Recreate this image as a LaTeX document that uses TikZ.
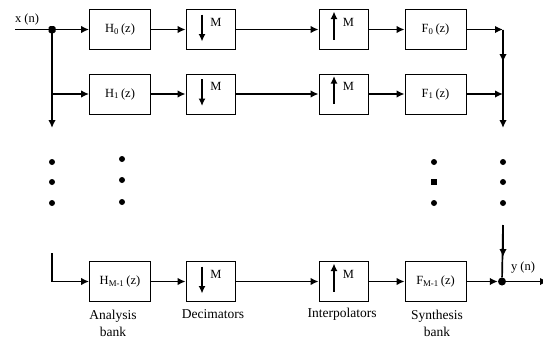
\documentclass[tikz,border=0pt]{standalone}
\usepackage{fontspec}
\setmainfont{Liberation Serif}
\usetikzlibrary{arrows.meta}
\begin{document}
\begin{tikzpicture}[x=1pt,y=-1pt,
  box/.style={draw,line width=0.8pt,minimum height=40pt,inner sep=0pt,font=\fontsize{12.5}{13}\selectfont},
  hbox/.style={box,minimum width=61pt},
  mbox/.style={box,minimum width=49pt},
  conn/.style={line width=1.7pt,-{Latex[length=8pt,width=7.5pt]}},
  wire/.style={line width=1.7pt},
  inarrow/.style={line width=1.6pt,-{Latex[length=7.5pt,width=7pt]}},
  mlbl/.style={font=\fontsize{12.5}{13}\selectfont},
  lbl/.style={font=\fontsize{13.5}{17}\selectfont,align=center},
  blob/.style={circle,fill,inner sep=0pt,minimum size=#1},
  blob/.default=6pt]
\useasboundingbox (0,0) rectangle (543,338);

\foreach \r/\y/\s in {0/29.5/0,1/94/1,2/281.5/{M-1}}{
  \node[hbox] (H\r) at (120,\y) {H\textsubscript{\s}\,(z)};
  \node[mbox] (D\r) at (210.5,\y) {};
  \draw[inarrow] ([xshift=-8.5pt,yshift=15pt]D\r.center) -- ++(0,27);
  \node[mlbl] (DM\r) at ([xshift=5.5pt,yshift=7.5pt]D\r.center) {M};
  \node[mbox] (U\r) at (343.5,\y) {};
  \draw[inarrow] ([xshift=-9.5pt,yshift=-10pt]U\r.center) -- ++(0,-28);
  \node[mlbl] (UM\r) at ([xshift=5pt,yshift=7.5pt]U\r.center) {M};
  \node[hbox] (F\r) at (435.5,\y) {F\textsubscript{\s}\,(z)};
  \draw[conn] (H\r) -- (D\r);
  \draw[conn] (D\r) -- (U\r);
  \draw[conn] (U\r) -- (F\r);
}

% input side
\coordinate (Xin) at (15,29.5);
\coordinate (J) at (52,29.5);
\coordinate (J1) at (52,94);
\coordinate (Lbot) at (52,128);
\coordinate (Ltop) at (52,253);
\node[mlbl] (xl) at (27,19) {x (n)};
\draw[wire] (Xin) -- (J);
\draw[conn] (J) -- (H0);
\draw[conn] (J) -- (Lbot);
\draw[conn] (J1) -- (H1);
\draw[conn] (Ltop) |- (H2);
\node[rectangle,fill,inner sep=0pt,minimum size=7pt,rounded corners=1.5pt] (Jd) at (J) {};

% output side
\coordinate (R0) at (503,29.5);
\coordinate (Rmid) at (503,62);
\coordinate (R1) at (503,94);
\coordinate (Rbot) at (503,128);
\coordinate (Rtop) at (503,225);
\coordinate (Rarr) at (503,257);
\coordinate (Yout) at (548,281.5);
\draw[conn] (F0) -- (R0);
\draw[conn] (F1) -- (R1);
\draw[wire] (R0) -- (R1);
\draw[conn] (R0) -- (Rmid);
\draw[conn] (R1) -- (Rbot);
\node[blob=8pt] (Y) at (502,281.5) {};
\draw[wire] (Rtop) -- (Y);
\draw[conn] (Rtop) -- (Rarr);
\draw[conn] (F2) -- (Y);
\draw[conn] (Y) -- (Yout);
\node[mlbl] (yl) at (523,268) {y (n)};

% ellipsis dots
\foreach \i/\yy in {1/162,2/182,3/203}{
  \node[blob=6pt] (da\i) at (52,\yy) {};
  \node[blob=6pt] (dd\i) at (503,\yy) {};
}
\foreach \i/\yy in {1/159,2/180,3/202}{
  \node[blob=6pt] (db\i) at (122,\yy) {};
}
\node[blob=6pt] (dc1) at (434,162) {};
\node[rectangle,fill,inner sep=0pt,minimum size=5.5pt] (dc2) at (434,182) {};
\node[blob=6pt] (dc3) at (434,203) {};

% captions
\node[lbl] (la) at (113,323) {Analysis\\bank};
\node[lbl] (lb) at (213,314) {Decimators};
\node[lbl] (lc) at (342,314) {Interpolators};
\node[lbl] (ld) at (437,323) {Synthesis\\bank};
\end{tikzpicture}
\end{document}
